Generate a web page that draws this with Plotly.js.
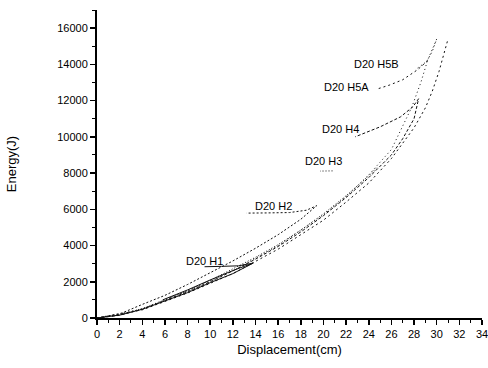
<!DOCTYPE html>
<html><head><meta charset="utf-8">
<script src="https://cdn.plot.ly/plotly-3.0.1.min.js"></script>
<style>html,body{margin:0;padding:0;background:#fff}#c{width:488px;height:368px}</style>
</head><body><div id="c"></div>
<script>
// Series (Displacement cm, Energy J); null breaks a line
const h1x = [0, 2, 4, 6, 8, 10, 12, 13.8, 12.5, 11, 9.5];
const h1y = [0, 160, 480, 930, 1400, 1950, 2450, 3030, 2880, 2850, 2830];
const h1bx = [5.8, 8, 10, 12, 13.8];
const h1by = [1000, 1550, 2100, 2620, 3030];
const h2x = [0, 2, 4, 6, 8, 10, 12, 14, 16, 18, 19.4, 18.5, 17, 15, 13.2];
const h2y = [0, 220, 750, 1250, 1850, 2500, 3150, 3850, 4600, 5450, 6200, 5950, 5820, 5800, 5790];
const h3x = [0, 2, 4, 6, 8, 10, 12, 14, 16, 18, 20, 22, 24, 24.8, null, 20.8, 19.7];
const h3y = [0, 170, 520, 1000, 1500, 2080, 2700, 3350, 4050, 4850, 5750, 6750, 7850, 8350, null, 8120, 8110];
const h4x = [0, 2, 4, 6, 8, 10, 12, 14, 16, 18, 20, 22, 24, 26, 27, 28, 28.4, 27.9, 26.8, 25, 22.8];
const h4y = [0, 150, 480, 950, 1450, 2000, 2600, 3250, 3950, 4750, 5650, 6650, 7750, 9000, 9900, 11000, 12100, 11660, 11100, 10550, 10000];
const h5ax = [0, 4, 8, 12, 16, 20, 22, 24, 26, 28, 29, 29.6, 30.2, 30.6, 31, null, 29.2, 28.3, 27, 25.8, 24.7];
const h5ay = [0, 450, 1380, 2450, 3800, 5400, 6400, 7450, 8800, 10500, 11600, 12500, 13600, 14450, 15400, null, 14200, 13700, 13150, 12850, 12630];
const h5bx = [0, 4, 8, 12, 16, 20, 22, 24, 26, 27.8, 28.6, 29.2, 30, 29.6, 29.1, 28.1];
const h5by = [0, 500, 1500, 2600, 4000, 5700, 6700, 7900, 9300, 11640, 13000, 14230, 15400, 14700, 14150, 13700];
const labels = ["D20 H1", "D20 H2", "D20 H3", "D20 H4", "D20 H5A", "D20 H5B"];
const labelX = [9.5, 15.6, 20.0, 21.5, 22.0, 24.7];
const labelY = [3150, 6200, 8680, 10450, 12750, 14020];

const ln = (x, y, dash) => ({x: x, y: y, mode: 'lines', connectgaps: false,
  line: {color: '#111', width: 1, dash: dash}, hoverinfo: 'skip', showlegend: false});
const data = [
  ln(h1x, h1y, 'solid'), ln(h1bx, h1by, 'solid'),
  ln(h2x, h2y, '2px,2px'), ln(h3x, h3y, '1px,2px'),
  ln(h4x, h4y, '3px,2px'), ln(h5ax, h5ay, '2px,3px'), ln(h5bx, h5by, '1px,3px')
];
const ann = labels.map((t, i) => ({x: labelX[i], y: labelY[i], text: t, showarrow: false,
  font: {family: 'Liberation Sans, Arial', size: 11, color: '#000'}}));
const layout = {
  width: 488, height: 368, margin: {l: 97, r: 6, t: 10, b: 50},
  paper_bgcolor: '#fff', plot_bgcolor: '#fff',
  font: {family: 'Liberation Sans, Arial', color: '#000', size: 11},
  xaxis: {range: [0, 34], dtick: 2, tick0: 0, showgrid: false, zeroline: false, ticklabeloverflow: 'allow',
    showline: true, linecolor: '#000', linewidth: 2, ticks: 'outside', ticklen: 5, tickwidth: 1.5, tickcolor: '#000',
    minor: {dtick: 1, ticks: 'outside', ticklen: 3, tickcolor: '#000', tickwidth: 1},
    tickfont: {size: 11},
    title: {text: 'Displacement(cm)', font: {size: 13}, standoff: 6}},
  yaxis: {range: [0, 17000], dtick: 2000, tick0: 0, tickformat: 'd', showgrid: false, zeroline: false,
    showline: true, linecolor: '#000', linewidth: 2, ticks: 'outside', ticklen: 5, tickwidth: 1.5, tickcolor: '#000',
    minor: {dtick: 1000, ticks: 'outside', ticklen: 3, tickcolor: '#000', tickwidth: 1},
    tickfont: {size: 11},
    title: {text: 'Energy(J)', font: {size: 13}, standoff: 38}},
  annotations: ann
};
Plotly.newPlot('c', data, layout, {staticPlot: true, displayModeBar: false});
</script></body></html>
